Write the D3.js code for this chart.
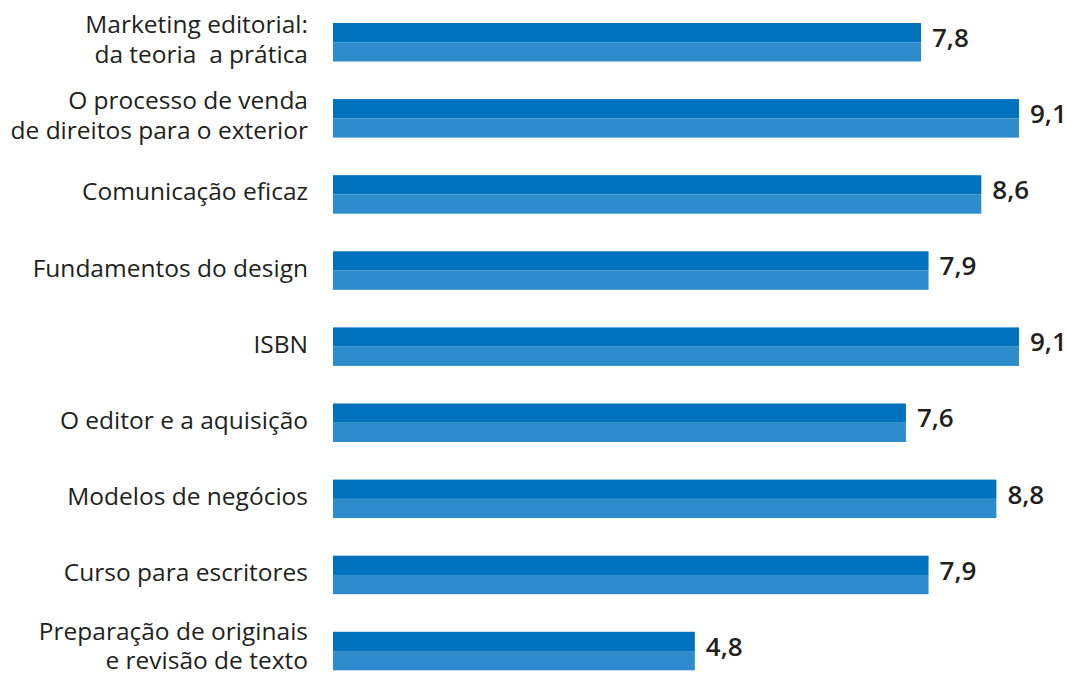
<!DOCTYPE html>
<html><head><meta charset="utf-8">
<script src="https://cdn.jsdelivr.net/npm/d3@7"></script>
<style>html,body{margin:0;padding:0;background:#fff;} text{white-space:pre;}</style>
</head><body>
<svg id="chart" width="1066" height="675"></svg>
<script>
const categories = [
  "Marketing editorial:|da teoria  a prática",
  "O processo de venda|de direitos para o exterior",
  "Comunicação eficaz",
  "Fundamentos do design",
  "ISBN",
  "O editor e a aquisição",
  "Modelos de negócios",
  "Curso para escritores",
  "Preparação de originais|e revisão de texto"
];
const values = [7.8, 9.1, 8.6, 7.9, 9.1, 7.6, 8.8, 7.9, 4.8];
const valueLabels = ["7,8", "9,1", "8,6", "7,9", "9,1", "7,6", "8,8", "7,9", "4,8"];

const svg = d3.select("#chart");
const x = d3.scaleLinear().domain([0, 9.1]).range([333, 1019]);
const y = d3.scaleBand().domain(categories).range([23, 670.3]).paddingInner(0.494).paddingOuter(0);
const bw = y.bandwidth();
const font = "'Open Sans', sans-serif";
const txt = "#231f20";

const g = svg.append("g");
const rows = g.selectAll("g.row").data(categories).join("g").attr("class","row");

rows.append("rect")
  .attr("x", x(0)).attr("y", d => y(d))
  .attr("width", (d,i) => x(values[i]) - x(0)).attr("height", bw/2)
  .attr("fill", "#0071bc");
rows.append("rect")
  .attr("x", x(0)).attr("y", d => y(d) + bw/2)
  .attr("width", (d,i) => x(values[i]) - x(0)).attr("height", bw/2)
  .attr("fill", "#2e8bcc");

rows.append("text")
  .attr("x", (d,i) => x(values[i]) + 11)
  .attr("y", d => y(d) + 24)
  .attr("font-family", font).attr("font-weight", 600).attr("font-size", 26)
  .attr("fill", txt)
  .text((d,i) => valueLabels[i]);

rows.each(function(d, i){
  const lines = d.split("|");
  const last = i === categories.length - 1;
  const lh = last ? 29 : 30;
  const t = d3.select(this).append("text")
    .attr("text-anchor","end")
    .attr("font-family", font).attr("font-size", 24.5).attr("fill", txt);
  const c = y(d) + bw/2;
  const start = lines.length === 1 ? c + 6 : (last ? c - 11 : c - 9);
  lines.forEach((l,k) => {
    t.append("tspan").attr("x", 308).attr("y", start + k*lh).text(l);
  });
});
</script>
</body></html>
